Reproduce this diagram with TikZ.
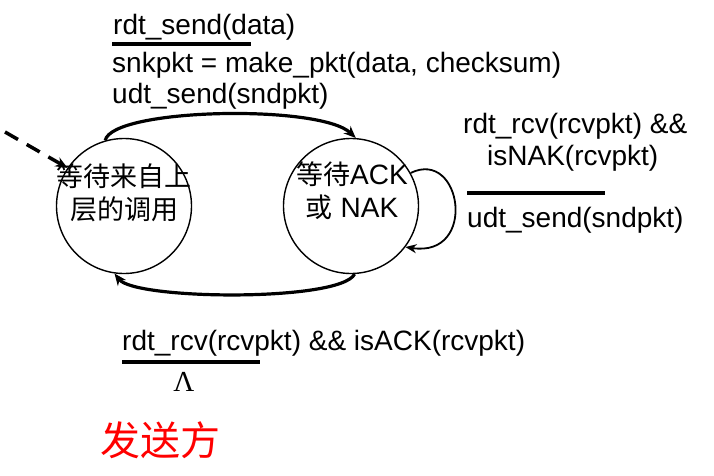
\documentclass[tikz,border=0pt]{standalone}
\usepackage{fontspec}
\setmainfont{Liberation Sans}
\newfontfamily\cjk{Noto Sans CJK SC}
\newfontfamily\serifgreek{Liberation Serif}
\usetikzlibrary{arrows.meta}
\begin{document}
\begin{tikzpicture}[x=1pt,y=1pt,
  state/.style={draw,circle,line width=1.4pt,minimum size=135pt,inner sep=0pt},
  lbl/.style={anchor=base west,inner sep=0pt,font=\fontsize{28}{32}\selectfont},
  stext/.style={align=center,inner sep=0pt,font=\fontsize{28}{33}\selectfont},
  trans/.style={line width=3.2pt,-{Stealth[length=12pt,width=10pt]}},
  selfloop/.style={line width=1.8pt,-{Stealth[length=11pt,width=9pt]}},
  rulebar/.style={line width=3.5pt}]
\useasboundingbox (0,0) rectangle (714,-476);
% states
\node[state] (L) at (124,-206) {};
\node[state] (R) at (351,-206) {};
\node[stext] (Lt) at (124,-193) {{\cjk\fontsize{27}{30}\selectfont 等待来自上}\\[0pt]{\cjk\fontsize{27}{30}\selectfont 层的调用}};
\node[stext] (Rt) at (352,-191) {{\cjk\fontsize{27}{30}\selectfont 等待}ACK\\{\cjk\fontsize{27}{30}\selectfont 或} NAK};
% transitions
\draw[trans] (L.106) .. controls (112,-108) and (320,-104) .. (R.86);
\draw[trans] (R.273) .. controls (340,-302) and (135,-300) .. (L.262);
\draw[selfloop] (R.29) .. controls (462,-148) and (478,-258) .. (R.323);
\coordinate (init) at (5,-132);
\draw[line width=3.5pt,dash pattern=on 15pt off 10pt,-{Stealth[length=12pt,width=10pt]}] (init) -- (L.146);
% top label
\node[lbl] (t1) at (113,-35) {rdt\_send(data)};
\draw[rulebar] (112,-44) -- (251,-44);
\node[lbl] (t2) at (112,-73) {snkpkt = make\_pkt(data, checksum)};
\node[lbl] (t3) at (112,-103) {udt\_send(sndpkt)};
% right label
\node[lbl] (r1) at (463,-133) {rdt\_rcv(rcvpkt) \&\&};
\node[lbl] (r2) at (487,-165) {isNAK(rcvpkt)};
\draw[rulebar] (467,-193) -- (605,-193);
\node[lbl] (r3) at (467,-227) {udt\_send(sndpkt)};
% bottom label
\node[lbl] (b1) at (122,-350) {rdt\_rcv(rcvpkt) \&\& isACK(rcvpkt)};
\draw[rulebar] (122,-362) -- (260,-362);
\node[inner sep=0pt,font=\serifgreek\fontsize{29}{30}\selectfont] (lam) at (184,-382) {Λ};
\node[inner sep=0pt,text=red,font=\cjk\fontsize{40}{44}\selectfont] (side) at (160,-440) {发送方};
\end{tikzpicture}
\end{document}
